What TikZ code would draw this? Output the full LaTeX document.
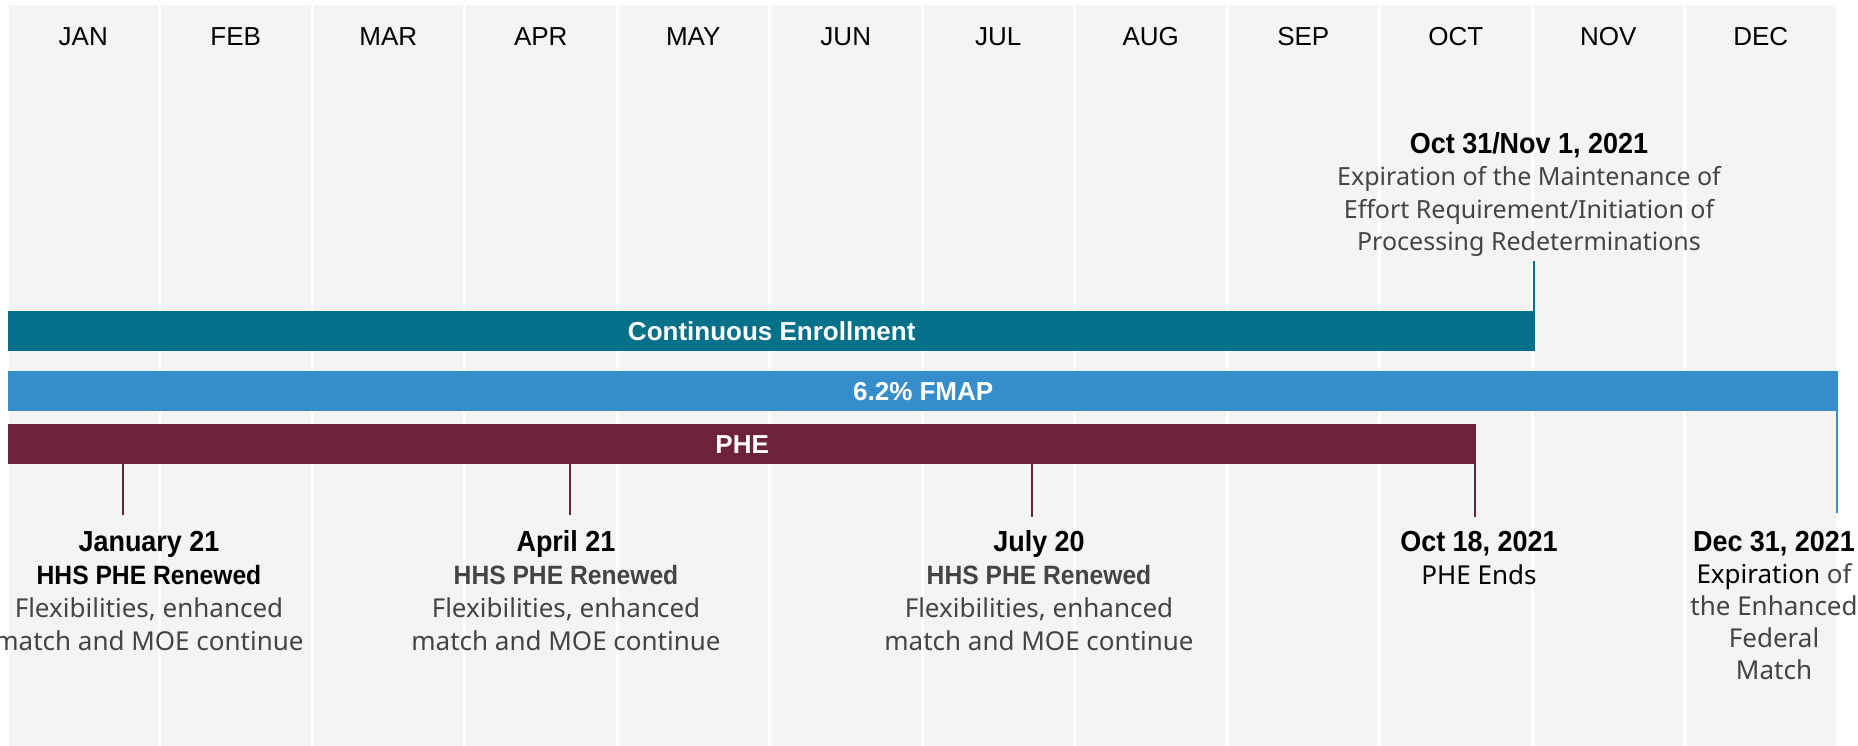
\documentclass[tikz,border=0pt]{standalone}
\usepackage{fontspec}
\setmainfont{Noto Sans}
\newfontfamily\monthfont{Liberation Sans}
\newfontfamily\datefont{Liberation Sans}[FakeStretch=0.93]
\usetikzlibrary{positioning}

\definecolor{colgray}{HTML}{F4F4F4}
\definecolor{ceteal}{HTML}{03718A}
\definecolor{fmapblue}{HTML}{368DCC}
\definecolor{phered}{HTML}{6E2239}
\definecolor{txtgray}{HTML}{444444}

\newcommand{\evdate}[1]{{\datefont\bfseries\fontsize{29}{33}\selectfont\color{black}#1}}
\newcommand{\evhead}[1]{{\datefont\bfseries\fontsize{26.5}{33}\selectfont #1}}

\tikzset{
	month/.style={font=\monthfont\fontsize{26}{30}\selectfont, anchor=base, inner sep=0},
	bar/.style={anchor=north west, inner sep=0, minimum height=40pt, text=white, font=\monthfont\bfseries\fontsize{26}{30}\selectfont},
	tick/.style={line width=2pt},
	event/.style={anchor=base, inner sep=0, align=center, text=txtgray, font=\fontsize{26}{33}\selectfont},
}

\begin{document}
\begin{tikzpicture}[x=1pt, y=-1pt]
	%%%%% START %%%%%
	\useasboundingbox (0,0) rectangle (1858,746);
	\fill[white] (0,0) rectangle (1858,746);
	
	% month columns
	\foreach \m [count=\i from 0] in {JAN,FEB,MAR,APR,MAY,JUN,JUL,AUG,SEP,OCT,NOV,DEC} {
		\fill[colgray] ({8.5+152.5*\i}, 5) rectangle ({5.5+152.5*(\i+1)}, 746);
		\node[month] (m\i) at ({83.25+152.5*\i}, 46) {\m};
	}
	
	% bars
	\node[bar, fill=ceteal, minimum width=1527pt] (ce) at (8, 311) {Continuous Enrollment};
	\node[bar, fill=fmapblue, minimum width=1830pt] (fmap) at (8, 371) {6.2\% FMAP};
	\node[bar, fill=phered, minimum width=1468pt] (phe) at (8, 424) {PHE};
	
	% events (base = last line)
	\node[event, font=\fontsize{25}{32.5}\selectfont] (moe) at (1529, 250.8) {\evdate{Oct 31/Nov 1, 2021}\\ Expiration of the Maintenance of\\ Effort Requirement/Initiation of\\ Processing Redeterminations};
	\node[event] (jan) at (149, 650.5) {\evdate{January 21}\\ \evhead{\color{black}HHS PHE Renewed}\\ Flexibilities, enhanced\\ match and MOE continue};
	\node[event] (apr) at (566, 650.5) {\evdate{April 21}\\ \evhead{HHS PHE Renewed}\\ Flexibilities, enhanced\\ match and MOE continue};
	\node[event] (jul) at (1039, 650.5) {\evdate{July 20}\\ \evhead{HHS PHE Renewed}\\ Flexibilities, enhanced\\ match and MOE continue};
	\node[event, text=black] (octend) at (1479, 584.5) {\evdate{Oct 18, 2021}\\ PHE Ends};
	\node[event, font=\fontsize{26}{32}\selectfont] (dec) at (1774, 679.5) {\evdate{Dec 31, 2021}\\ {\color{black}Expiration} of\\ the Enhanced\\ Federal\\ Match};
	
	% ticks
	\coordinate (tmoe) at (1534, 261);
	\coordinate (tjan) at (123, 515);
	\coordinate (tapr) at (570, 515);
	\coordinate (tjul) at (1032, 517);
	\coordinate (toct) at (1475, 517);
	\coordinate (tdec) at (1837, 513);
	
	\draw[tick, ceteal] (tmoe) -- (tmoe |- ce.south);
	\draw[tick, phered] (tjan |- phe.south) -- (tjan);
	\draw[tick, phered] (tapr |- phe.south) -- (tapr);
	\draw[tick, phered] (tjul |- phe.south) -- (tjul);
	\draw[tick, phered] (toct |- phe.south) -- (toct);
	\draw[tick, fmapblue] (tdec |- fmap.south) -- (tdec);
	%%%%% END %%%%%
\end{tikzpicture}
\end{document}
